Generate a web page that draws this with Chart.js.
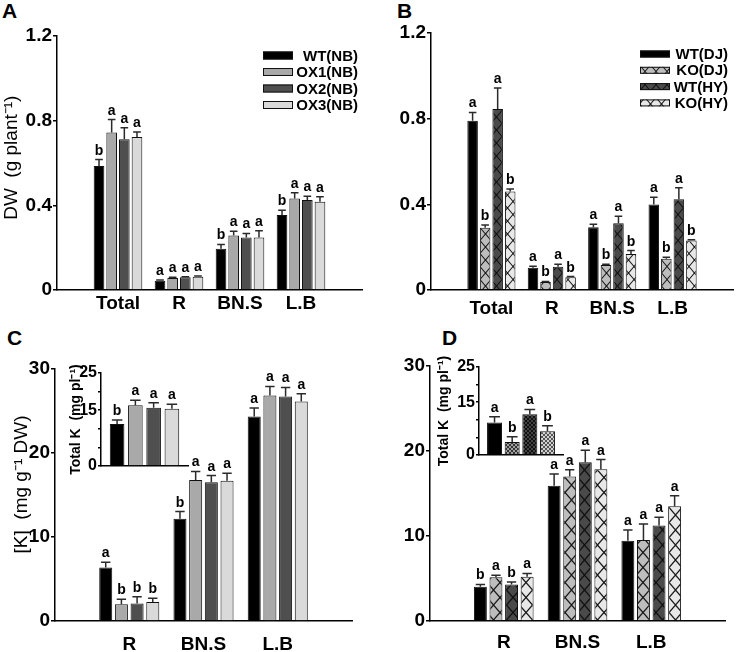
<!DOCTYPE html>
<html>
<head>
<meta charset="utf-8">
<script src="https://cdn.jsdelivr.net/npm/chart.js@4.4.1/dist/chart.umd.min.js"></script>
<style>
  body { margin: 0; background: #fff; width: 740px; height: 652px; position: relative; overflow: hidden; }
  canvas { position: absolute; }
  .tag { position: absolute; font: bold 21px/21px "Liberation Sans", Arial, sans-serif; color: #000; }
</style>
</head>
<body>
<div class="tag" style="left:2px;top:0">A</div>
<div class="tag" style="left:397px;top:0">B</div>
<div class="tag" style="left:7px;top:327px">C</div>
<div class="tag" style="left:442px;top:327px">D</div>
<canvas id="chartA" width="370" height="320" style="left:0;top:0"></canvas>
<canvas id="chartB" width="370" height="320" style="left:370px;top:0"></canvas>
<canvas id="chartC" width="370" height="332" style="left:0;top:320px"></canvas>
<canvas id="chartD" width="370" height="332" style="left:370px;top:320px"></canvas>
<canvas id="insetC" width="145" height="140" style="left:55px;top:345px"></canvas>
<canvas id="insetD" width="150" height="130" style="left:420px;top:345px"></canvas>
<script>
const FONT = '"Liberation Sans", Arial, sans-serif';

const groupsAB = ['', 'Total', 'R', 'BN.S', 'L.B', ''];
const groupsCD = ['', 'R', 'BN.S', 'L.B', ''];
const linesNB = ['WT(NB)', 'OX1(NB)', 'OX2(NB)', 'OX3(NB)'];
const linesKO = ['WT(DJ)', 'KO(DJ)', 'WT(HY)', 'KO(HY)'];

const dwTicks = [0, 0.4, 0.8, 1.2];
const dwTickLabels = ['0', '0.4', '0.8', '1.2'];
const kTicks = [0, 10, 20, 30];
const kTickLabels = ['0', '10', '20', '30'];
const totalKTicks = [0, 5, 10, 15, 20, 25];
const totalKTickLabels = ['0', '', '', '15', '', '25'];

// A: dry weight of the overexpression lines, one row per line (Total, R, BN.S, L.B)
const dwA = [
  [0.586, 0.044, 0.195, 0.354],
  [0.744, 0.057, 0.258, 0.432],
  [0.712, 0.060, 0.248, 0.425],
  [0.723, 0.063, 0.248, 0.417],
];
const seA = [
  [0.030, 0.003, 0.020, 0.023],
  [0.061, 0.003, 0.019, 0.027],
  [0.055, 0.003, 0.019, 0.018],
  [0.024, 0.003, 0.032, 0.023],
];
const lettersA = [
  ['b', 'a', 'b', 'b'],
  ['a', 'a', 'a', 'a'],
  ['a', 'a', 'a', 'a'],
  ['a', 'a', 'a', 'a'],
];

// B: dry weight of the knockouts
const dwB = [
  [0.790, 0.104, 0.293, 0.399],
  [0.291, 0.037, 0.117, 0.146],
  [0.845, 0.109, 0.312, 0.424],
  [0.460, 0.059, 0.168, 0.231],
];
const seB = [
  [0.039, 0.007, 0.014, 0.034],
  [0.013, 0.003, 0.003, 0.007],
  [0.098, 0.011, 0.032, 0.054],
  [0.012, 0.004, 0.016, 0.004],
];
const lettersB = [
  ['a', 'a', 'a', 'a'],
  ['b', 'b', 'b', 'b'],
  ['a', 'a', 'a', 'a'],
  ['b', 'b', 'b', 'b'],
];

// C: K concentration (R, BN.S, L.B) + total K inset
const kC = [
  [6.36, 12.16, 24.35],
  [1.99, 16.80, 26.86],
  [2.07, 16.53, 26.74],
  [2.26, 16.69, 26.14],
];
const seC = [
  [0.64, 0.87, 1.00],
  [0.59, 1.00, 1.07],
  [0.83, 0.79, 1.06],
  [0.44, 0.91, 0.91],
];
const lettersC = [
  ['a', 'b', 'a'],
  ['b', 'a', 'a'],
  ['b', 'a', 'a'],
  ['b', 'a', 'a'],
];
const totalKC = [11.26, 16.30, 15.66, 15.40];
const totalKseC = [1.10, 1.37, 1.34, 1.20];
const totalKlettersC = ['b', 'a', 'a', 'a'];

// D: K concentration of the knockouts + total K inset
const kD = [
  [4.04, 15.90, 9.45],
  [5.14, 17.00, 9.53],
  [4.30, 18.67, 11.25],
  [5.20, 17.84, 13.50],
];
const seD = [
  [0.26, 1.40, 1.25],
  [0.23, 0.80, 1.87],
  [0.30, 1.43, 0.95],
  [0.40, 1.16, 1.25],
];
const lettersD = [
  ['b', 'a', 'a'],
  ['a', 'a', 'a'],
  ['b', 'a', 'a'],
  ['a', 'a', 'a'],
];
const totalKD = [9.26, 3.70, 11.57, 6.76];
const totalKseD = [1.64, 1.50, 1.39, 1.57];
const totalKlettersD = ['a', 'b', 'a', 'b'];

function hatch(base, w, h, line, lw) {
  const c = document.createElement('canvas');
  c.width = w;
  c.height = h;
  const g = c.getContext('2d');
  g.fillStyle = base;
  g.fillRect(0, 0, w, h);
  g.strokeStyle = line;
  g.lineWidth = lw;
  for (const dx of [-w, 0, w]) {
    for (const dy of [-h, 0, h]) {
      g.beginPath();
      g.moveTo(dx, dy + h / 2);
      g.lineTo(dx + w / 2, dy);
      g.lineTo(dx + w, dy + h / 2);
      g.lineTo(dx + w / 2, dy + h);
      g.closePath();
      g.stroke();
    }
  }
  return g.createPattern(c, 'repeat');
}

const greysNB = ['#000000', '#a9a9a9', '#4f4f4f', '#dadada'];
const fillsB = ['#000000', hatch('#bdbdbd', 11, 13, '#1a1a1a', 1.1), hatch('#4a4a4a', 11, 13, '#111', 1.1), hatch('#e8e8e8', 11, 13, '#1a1a1a', 1.1)];
const fillsD = ['#000000', hatch('#bdbdbd', 13, 15, '#1a1a1a', 1.2), hatch('#4a4a4a', 13, 15, '#111', 1.2), hatch('#e8e8e8', 13, 15, '#1a1a1a', 1.2)];
const fillsInsetD = ['#000000', hatch('#a0a0a0', 4, 4, '#333', 1), hatch('#444', 4, 4, '#111', 1), hatch('#d0d0d0', 4, 4, '#555', 1)];

const errorBars = {
  id: 'errorBars',
  afterDatasetsDraw(chart) {
    const ctx = chart.ctx;
    const y = chart.scales.y;
    chart.data.datasets.forEach((ds, di) => {
      chart.getDatasetMeta(di).data.forEach((bar, i) => {
        const v = ds.data[i];
        if (v == null) return;
        const top = y.getPixelForValue(v + ds.se[i]);
        const half = bar.width * 0.36;
        ctx.save();
        ctx.strokeStyle = '#2a2a2a';
        ctx.lineWidth = 1.5;
        ctx.beginPath();
        ctx.moveTo(bar.x, bar.y);
        ctx.lineTo(bar.x, top);
        ctx.moveTo(bar.x - half, top);
        ctx.lineTo(bar.x + half, top);
        ctx.stroke();
        ctx.fillStyle = '#000';
        ctx.font = `bold 14px ${FONT}`;
        ctx.textAlign = 'center';
        ctx.textBaseline = 'alphabetic';
        ctx.fillText(ds.letters[i], bar.x, top - 5);
        ctx.restore();
      });
    });
  },
};

const keyBox = {
  id: 'keyBox',
  afterDraw(chart, args, o) {
    const ctx = chart.ctx;
    ctx.save();
    ctx.font = `bold 15px ${FONT}`;
    ctx.textAlign = 'right';
    ctx.textBaseline = 'middle';
    chart.data.datasets.forEach((ds, i) => {
      const cy = o.y + i * o.dy;
      ctx.fillStyle = ds.backgroundColor;
      ctx.fillRect(o.x, cy - o.h / 2, o.w, o.h);
      ctx.strokeStyle = '#111';
      ctx.lineWidth = 1;
      ctx.strokeRect(o.x + 0.5, cy - o.h / 2 + 0.5, o.w - 1, o.h - 1);
      ctx.fillStyle = '#000';
      ctx.fillText(ds.label, o.textRight, cy + 1);
    });
    ctx.restore();
  },
};

function datasets(names, values, errors, letters, fills, padded, cp, bp) {
  const pad = (row) => (padded ? [null, ...row, null] : row);
  return names.map((name, i) => ({
    label: name,
    data: pad(values[i]),
    se: pad(errors[i]),
    letters: pad(letters[i]),
    backgroundColor: fills[i],
    borderColor: '#111',
    borderWidth: 1,
    categoryPercentage: cp,
    barPercentage: bp,
  }));
}

function makeChart(id, cfg) {
  return new Chart(document.getElementById(id), {
    type: 'bar',
    data: { labels: cfg.labels, datasets: cfg.datasets },
    options: {
      responsive: false,
      animation: false,
      devicePixelRatio: 1,
      events: [],
      layout: { padding: { top: cfg.top, right: cfg.right, bottom: 0, left: 0 } },
      plugins: {
        legend: { display: false },
        tooltip: { enabled: false },
        keyBox: cfg.key || false,
      },
      scales: {
        x: {
          offset: cfg.offset,
          afterFit: (s) => { s.height = cfg.xHeight; },
          grid: { display: false, drawTicks: false },
          border: { display: true, color: '#000', width: 1.5 },
          ticks: {
            display: cfg.showX,
            autoSkip: false,
            maxRotation: 0,
            padding: cfg.xPad,
            color: '#000',
            font: { family: FONT, size: 19, weight: 'bold' },
          },
        },
        y: {
          min: cfg.ticks[0],
          max: cfg.ticks[cfg.ticks.length - 1],
          afterBuildTicks: (s) => { s.ticks = cfg.ticks.map((v) => ({ value: v })); },
          afterFit: (s) => { s.width = cfg.yWidth; },
          grid: { drawOnChartArea: false, drawTicks: true, tickLength: cfg.tickLen, color: '#000', lineWidth: 1.5 },
          border: { display: true, color: '#000', width: 1.5 },
          ticks: {
            autoSkip: false,
            padding: 1,
            color: '#000',
            font: { family: FONT, size: cfg.tickSize, weight: 'bold' },
            callback: (v, i) => cfg.tickLabels[i],
          },
          title: {
            display: !!cfg.title,
            text: cfg.title || '',
            color: '#000',
            font: { family: FONT, size: cfg.titleSize || 19, weight: cfg.titleWeight || 'normal' },
            padding: { top: cfg.titlePad || 0, bottom: 0 },
          },
        },
      },
    },
    plugins: [errorBars, keyBox],
  });
}

makeChart('chartA', {
  labels: groupsAB,
  datasets: datasets(linesNB, dwA, seA, lettersA, greysNB, true, 0.83, 0.84),
  offset: false, showX: true, xPad: 2, xHeight: 30, yWidth: 57, top: 36, right: 8,
  ticks: dwTicks, tickLabels: dwTickLabels, tickLen: 4, tickSize: 19,
  title: '  DW  (g plant\u207B\u00B9)', titlePad: 0,
  key: { x: 263, y: 55.5, dy: 16.5, w: 30, h: 8, textRight: 358 },
});

makeChart('chartB', {
  labels: groupsAB,
  datasets: datasets(linesKO, dwB, seB, lettersB, fillsB, true, 0.83, 0.84),
  offset: false, showX: true, xPad: 7, xHeight: 30, yWidth: 61, top: 33, right: 3,
  ticks: dwTicks, tickLabels: dwTickLabels, tickLen: 4, tickSize: 19,
  key: { x: 270, y: 54, dy: 16.3, w: 30, h: 7, textRight: 358 },
});

makeChart('chartC', {
  labels: groupsCD,
  datasets: datasets(linesNB, kC, seC, lettersC, greysNB, true, 0.845, 0.83),
  offset: false, showX: true, xPad: 12, xHeight: 31, yWidth: 55, top: 49, right: 18,
  ticks: kTicks, tickLabels: kTickLabels, tickLen: 4, tickSize: 19,
  title: '    [K]  (mg g\u207B\u00B9 DW)', titlePad: 10,
});

makeChart('chartD', {
  labels: groupsCD,
  datasets: datasets(linesKO, kD, seD, lettersD, fillsD, true, 0.845, 0.83),
  offset: false, showX: true, xPad: 10, xHeight: 31, yWidth: 60, top: 46, right: 15,
  ticks: kTicks, tickLabels: kTickLabels, tickLen: 4, tickSize: 19,
});

makeChart('insetC', {
  labels: [''],
  datasets: datasets(linesNB, totalKC.map((v) => [v]), totalKseC.map((v) => [v]), totalKlettersC.map((v) => [v]), greysNB, false, 0.84, 0.8),
  offset: true, showX: false, xPad: 0, xHeight: 19, yWidth: 46, top: 28, right: 12,
  ticks: totalKTicks, tickLabels: totalKTickLabels, tickLen: 3, tickSize: 16,
  title: 'Total K  (mg pl\u207B\u00B9)', titleSize: 14, titleWeight: 'bold', titlePad: 13,
});

makeChart('insetD', {
  labels: [''],
  datasets: datasets(linesKO, totalKD.map((v) => [v]), totalKseD.map((v) => [v]), totalKlettersD.map((v) => [v]), fillsInsetD, false, 0.84, 0.85),
  offset: true, showX: false, xPad: 0, xHeight: 20, yWidth: 59, top: 22, right: 7,
  ticks: totalKTicks, tickLabels: totalKTickLabels, tickLen: 3, tickSize: 16,
  title: 'Total K  (mg pl\u207B\u00B9)', titleSize: 14, titleWeight: 'bold', titlePad: 16,
});
</script>
</body>
</html>
